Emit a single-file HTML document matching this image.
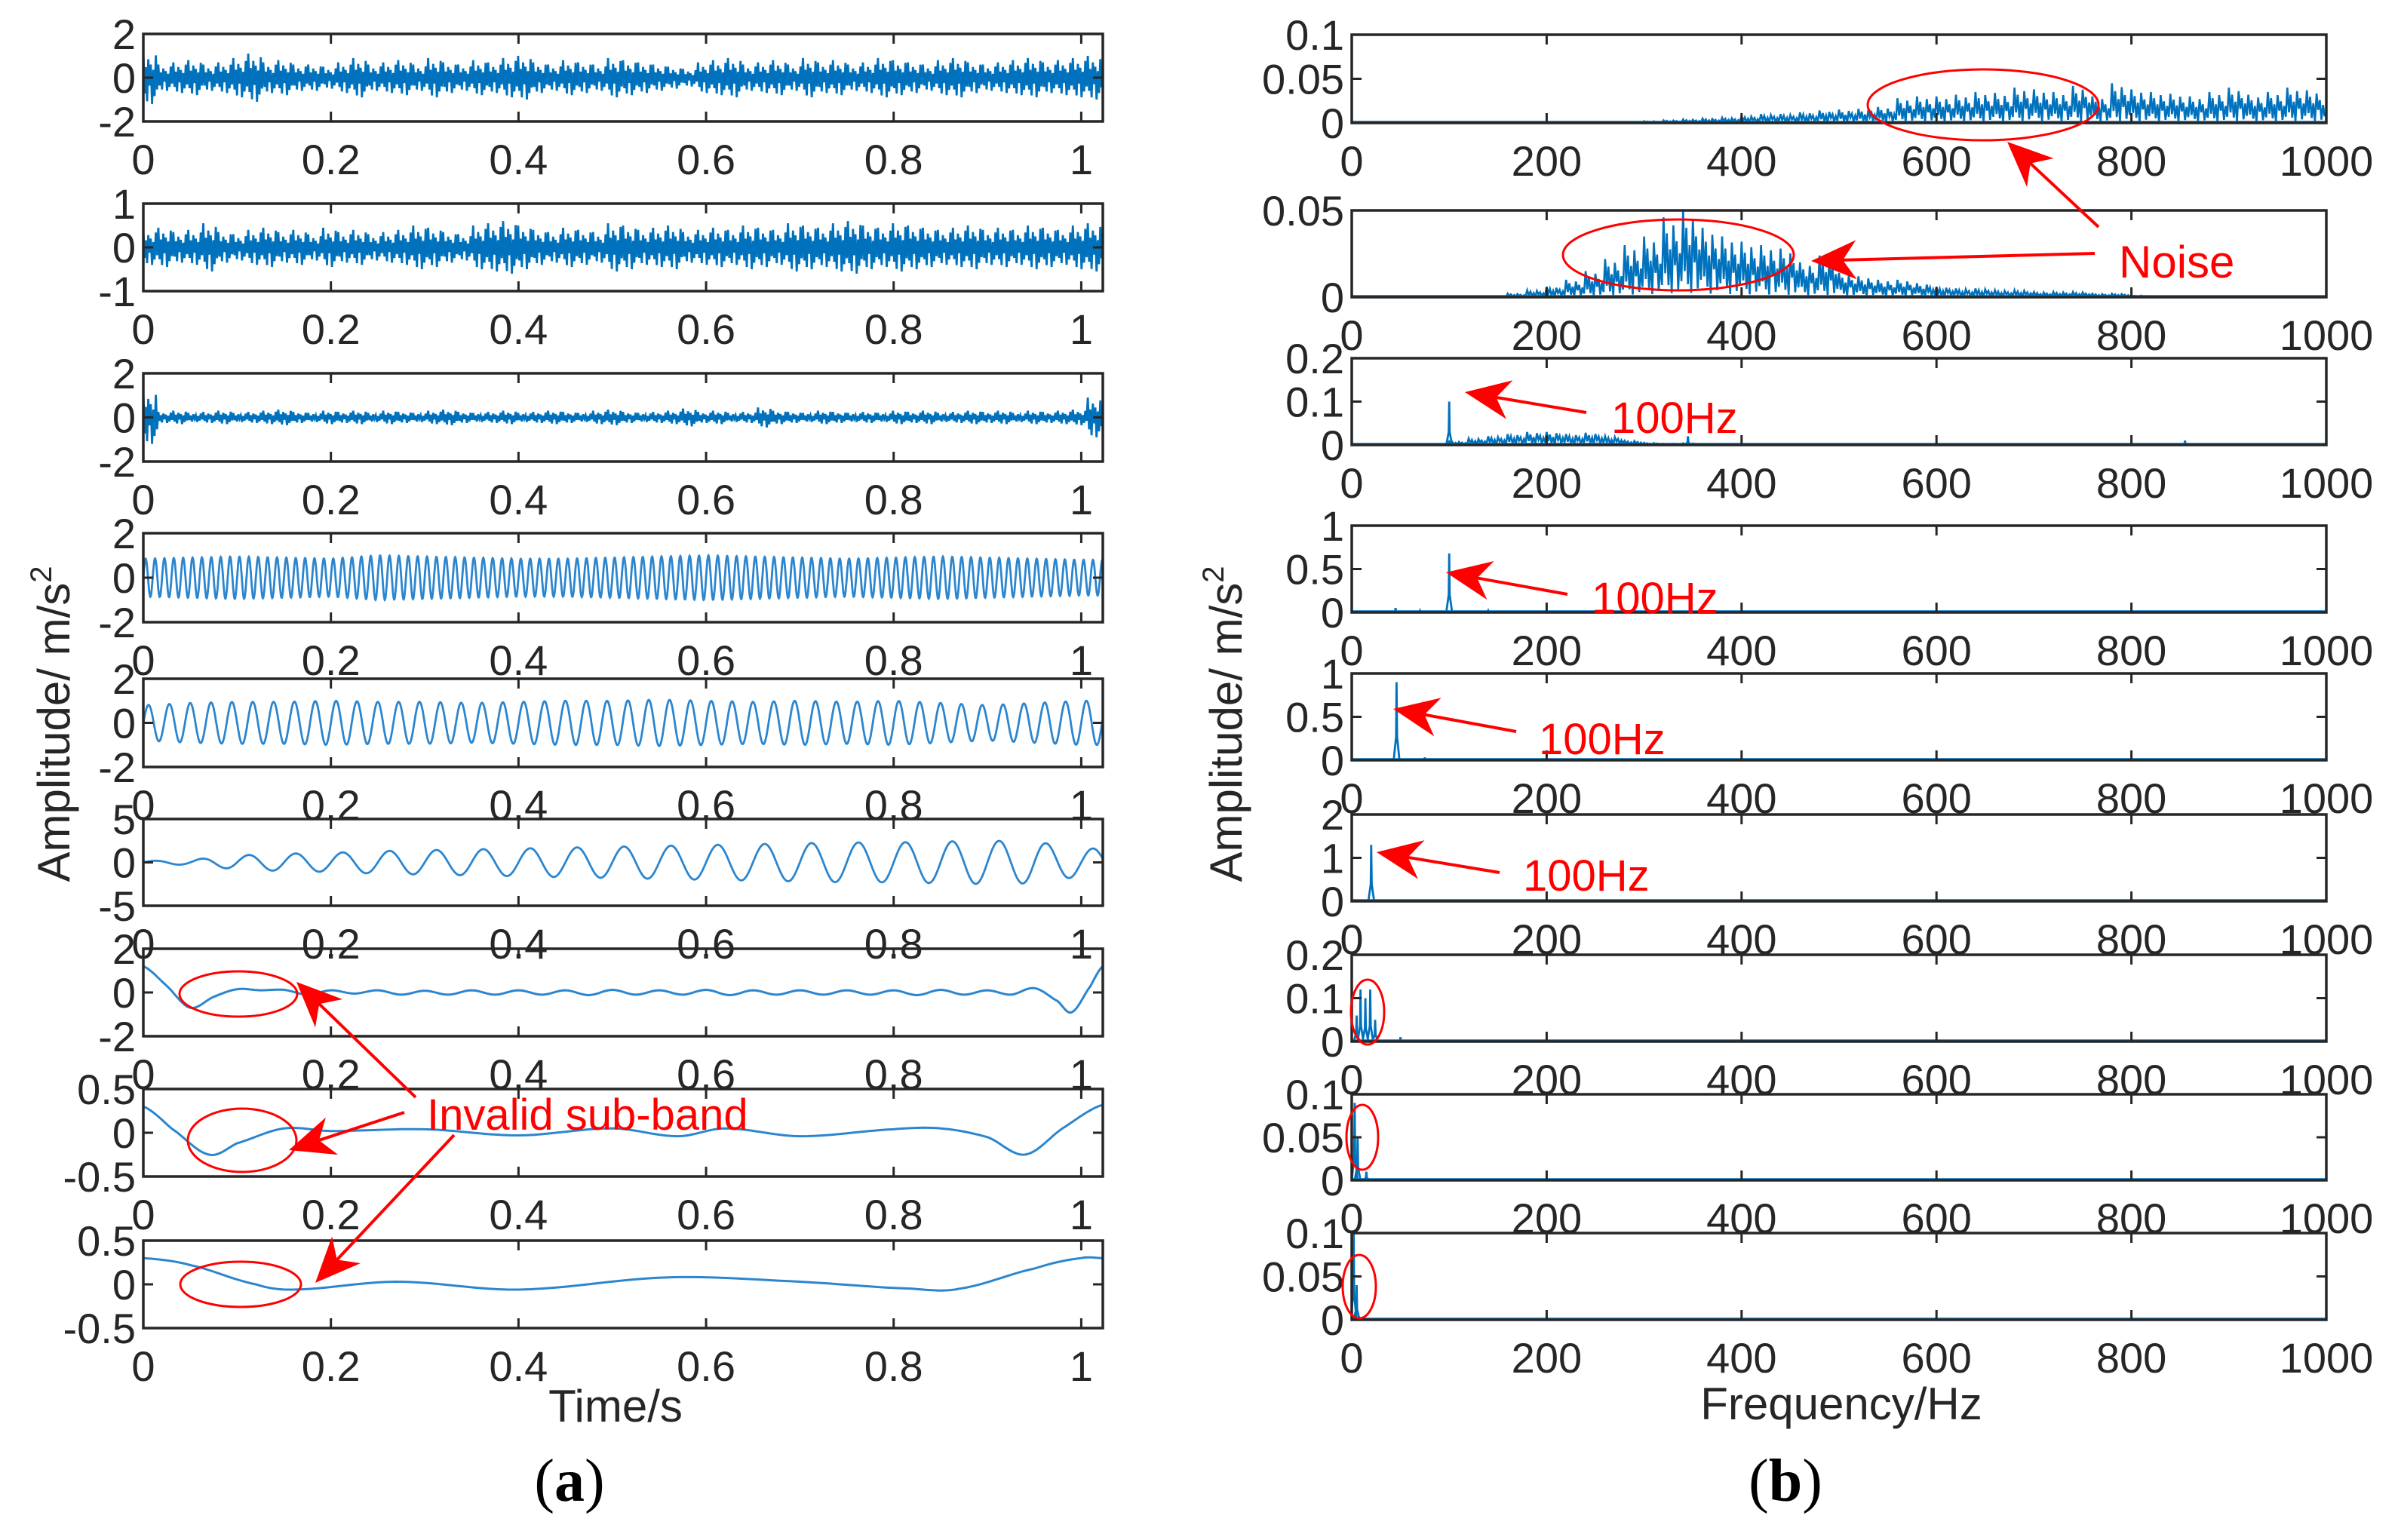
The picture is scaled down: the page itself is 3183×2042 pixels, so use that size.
<!DOCTYPE html>
<html><head><meta charset="utf-8"><style>
html,body{margin:0;padding:0;background:#fff;}
svg{display:block;font-family:"Liberation Sans",Arial,sans-serif;}
</style></head><body>
<svg id="fig" width="3183" height="2042" viewBox="0 0 3183 2042" xmlns="http://www.w3.org/2000/svg">
<rect width="3183" height="2042" fill="#fff"/>
<g id="plots"></g>
<g id="annot"></g>
</svg>
<script>
// ---------- DATA ----------
const timeTicks = [0, 0.2, 0.4, 0.6, 0.8, 1];
const timeTickLabels = ["0", "0.2", "0.4", "0.6", "0.8", "1"];
const freqTicks = [0, 200, 400, 600, 800, 1000];
const freqTickLabels = ["0", "200", "400", "600", "800", "1000"];

const noise1 = [1.2,0.6,0.7,0.8,0.6,0.7,0.9,1.1,0.7,0.8,0.6,0.6,0.5,0.7,0.9,0.6,0.7,0.8,0.6,0.9,0.7,0.6,0.8,0.7,0.9,1.0,0.7,0.6,0.8,0.7,0.6,0.9,0.8,0.7,0.6,0.5,0.4,0.7,0.8,0.9,0.6,0.7,0.8,0.6,0.9,0.7,0.8,0.6,0.7,0.9,0.8,0.7,0.6,0.8,0.9,0.7,0.6,0.7,0.8,0.9,0.7,0.8,0.9,1.0];
const noise2 = [0.4,0.45,0.35,0.4,0.55,0.35,0.3,0.4,0.45,0.35,0.4,0.3,0.45,0.35,0.4,0.3,0.35,0.4,0.5,0.45,0.35,0.3,0.5,0.55,0.6,0.5,0.4,0.35,0.45,0.4,0.35,0.55,0.5,0.4,0.45,0.5,0.35,0.4,0.45,0.4,0.5,0.45,0.4,0.55,0.5,0.45,0.55,0.6,0.5,0.45,0.55,0.5,0.45,0.4,0.45,0.5,0.4,0.45,0.4,0.5,0.45,0.4,0.5,0.55];
const noise3 = [1.2,0.25,0.3,0.2,0.25,0.3,0.2,0.25,0.3,0.35,0.25,0.2,0.3,0.25,0.3,0.2,0.3,0.25,0.2,0.3,0.35,0.25,0.2,0.25,0.3,0.2,0.25,0.3,0.25,0.2,0.3,0.35,0.25,0.2,0.25,0.3,0.4,0.25,0.3,0.2,0.25,0.45,0.3,0.25,0.2,0.3,0.25,0.2,0.25,0.2,0.3,0.25,0.3,0.2,0.25,0.3,0.25,0.3,0.2,0.3,0.25,0.3,0.35,0.9];
const osc4Freq = 100;
const osc4Env = [0.85,0.9,0.95,0.9,0.85,1.0,0.95,0.9,0.85,0.85,0.9,0.95,1.0,0.95,0.9,0.85,0.9,0.95,0.9,0.85,0.8];
const osc5Freq = 45;
const osc5Env = [0.8,0.9,0.95,0.95,1.0,0.95,0.95,0.9,0.95,1.0,1.0,1.05,1.0,0.95,1.0,0.95,1.0,0.9,0.8,0.9,1.0];
const osc6Freq = 20;
const osc6Env = [0.15,0.3,0.8,1.0,1.1,1.3,1.4,1.5,1.6,1.7,1.8,1.9,2.0,2.1,2.2,2.3,2.3,2.4,2.5,2.4,1.6];
const sb7T = [0,0.025,0.05,0.075,0.1,0.125,0.15,0.175,0.2,0.225,0.25,0.275,0.3,0.325,0.35,0.375,0.4,0.425,0.45,0.475,0.5,0.525,0.55,0.575,0.6,0.625,0.65,0.675,0.7,0.725,0.75,0.775,0.8,0.825,0.85,0.875,0.9,0.925,0.95,0.975,0.99,1.01,1.023];
const sb7V = [1.2,0.3,-0.7,-0.2,0.15,0.1,0.12,-0.1,0.1,-0.05,0.1,-0.1,0.08,-0.1,0.1,-0.1,0.1,-0.1,0.1,-0.12,0.12,-0.1,0.1,-0.1,0.12,-0.12,0.1,-0.1,0.1,-0.1,0.1,-0.1,0.1,-0.12,0.12,-0.1,0.1,-0.1,0.2,-0.4,-0.9,0.3,1.2];
const sb8T = [0,0.03,0.07,0.1,0.15,0.2,0.3,0.4,0.5,0.57,0.62,0.7,0.8,0.85,0.9,0.94,0.98,1.023];
const sb8V = [0.3,0.05,-0.25,-0.12,0.05,0.02,0.04,-0.03,0.05,-0.04,0.05,-0.04,0.04,0.05,-0.05,-0.25,0.05,0.32];
const sb9T = [0,0.05,0.12,0.16,0.27,0.4,0.56,0.7,0.82,0.87,0.95,1.0,1.023];
const sb9V = [0.3,0.22,0.0,-0.06,0.03,-0.06,0.08,0.03,-0.05,-0.05,0.18,0.3,0.3];
const spec1Bins = [0,0,0,0,0,0,0,0,0,0,0,0,0,0,0.001,0.002,0.003,0.004,0.005,0.006,0.008,0.01,0.01,0.012,0.014,0.015,0.016,0.018,0.028,0.03,0.03,0.032,0.035,0.034,0.04,0.038,0.035,0.042,0.03,0.045,0.038,0.035,0.033,0.03,0.035,0.04,0.032,0.035,0.04,0.037];
const spec2Bins = [0,0,0,0,0,0,0,0,0.002,0.004,0.006,0.01,0.015,0.022,0.03,0.035,0.046,0.05,0.04,0.035,0.032,0.03,0.028,0.02,0.024,0.014,0.012,0.01,0.01,0.008,0.006,0.005,0.005,0.004,0.004,0.003,0.003,0.003,0.002,0.002,0.001,0,0,0,0,0,0,0,0,0];
const spec3Bins = [0,0,0,0,0,0.008,0.015,0.02,0.025,0.03,0.03,0.025,0.028,0.02,0.01,0.005,0.003,0.004,0,0,0,0,0,0,0,0,0,0,0,0,0,0,0,0,0,0,0,0,0,0,0,0,0.002,0,0,0,0,0,0,0];
const spec3Peaks = [[100,0.1],[345,0.02],[855,0.01]];
const spec4Peaks = [[100,0.68],[45,0.05],[70,0.02],[140,0.02]];
const spec5Peaks = [[46,0.9],[75,0.03]];
const spec6Peaks = [[20,1.3]];
const spec7Peaks = [[5,0.06],[9,0.12],[14,0.1],[19,0.12],[24,0.05],[50,0.01]];
const spec8Peaks = [[3,0.09],[6,0.05],[15,0.01]];
const spec9Peaks = [[2,0.1],[5,0.04]];

// ---------- LAYOUT ----------
const NS = "http://www.w3.org/2000/svg";
const plots = document.getElementById("plots");
const annot = document.getElementById("annot");
const BLUE = "#0072BD", LBLUE = "#2b86cf";
function mk(tag, attrs, parent) {
  const e = document.createElementNS(NS, tag);
  for (const k in attrs) e.setAttribute(k, attrs[k]);
  (parent || plots).appendChild(e);
  return e;
}
const L = {x0: 190, x1: 1462, xmax: 1.023};
const R = {x0: 1792, x1: 3084, xmax: 1000};
const leftRows = [[45,161],[270,386],[495,612],[707,825],[900,1017],[1086,1201],[1258,1374],[1444,1560],[1645,1761]];
const rightRows = [[46,163],[279,394],[475,590],[697,812],[893,1008],[1080,1195],[1266,1381],[1451,1565],[1635,1750]];

function axes(col, row, ylim, yticks, ylabels, xticks, xlabels, name) {
  const g = mk("g", {});
  
  
  const [top, bot] = row;
  const sx = v => col.x0 + v / col.xmax * (col.x1 - col.x0);
  const sy = v => bot - (v - ylim[0]) / (ylim[1] - ylim[0]) * (bot - top);
  const clipId = "c" + name;
  const cp = mk("clipPath", {id: clipId}, g);
  mk("rect", {x: col.x0, y: top, width: col.x1 - col.x0, height: bot - top}, cp);
  const data = mk("g", {"clip-path": "url(#" + clipId + ")"}, g);
  
  
  xticks.forEach((t, i) => {
    const x = sx(t);
    mk("line", {x1: x, x2: x, y1: bot, y2: bot - 13, stroke: "#262626", "stroke-width": 3}, g);
    mk("line", {x1: x, x2: x, y1: top, y2: top + 13, stroke: "#262626", "stroke-width": 3}, g);
    const tx = mk("text", {x: x, y: bot + 70, "font-size": 56, "text-anchor": "middle", fill: "#262626"}, g);
    tx.textContent = xlabels[i];
    
    
  });
  yticks.forEach((t, i) => {
    const y = sy(t);
    mk("line", {x1: col.x0, x2: col.x0 + 13, y1: y, y2: y, stroke: "#262626", "stroke-width": 3}, g);
    mk("line", {x1: col.x1, x2: col.x1 - 13, y1: y, y2: y, stroke: "#262626", "stroke-width": 3}, g);
    const ty = mk("text", {x: col.x0 - 10, y: y + 20, "font-size": 56, "text-anchor": "end", fill: "#262626"}, g);
    ty.textContent = ylabels[i];
    
    
  });
  const fr = mk("rect", {x: col.x0, y: top, width: col.x1 - col.x0, height: bot - top, fill: "none", stroke: "#262626", "stroke-width": 3.5}, g);
  
  
  return {sx, sy, data};
}
function pathFrom(pts) { return "M" + pts.map(p => p[0].toFixed(1) + "," + p[1].toFixed(1)).join("L"); }

const noisePat = [1, -0.6, 0.4, -0.9, 0.7, -0.3, 0.5, -1, 0.3, -0.7, 0.85, -0.45];
function noisePanel(ax, arr) {
  const pts = [];
  const n = arr.length, w = L.xmax / n;
  arr.forEach((v, i) => {
    noisePat.forEach((p, k) => { pts.push([ax.sx((i + k / noisePat.length) * w), ax.sy(p * v)]); });
  });
  mk("path", {d: pathFrom(pts), fill: "none", stroke: BLUE, "stroke-width": 2.8}, ax.data);
}
function oscPanel(ax, f, env) {
  const pts = [];
  const N = 3000;
  for (let i = 0; i <= N; i++) {
    const t = i / N * L.xmax;
    const ei = Math.min(env.length - 1, t / 0.05);
    const a = env[Math.floor(ei)] + (env[Math.min(env.length - 1, Math.floor(ei) + 1)] - env[Math.floor(ei)]) * (ei - Math.floor(ei));
    pts.push([ax.sx(t), ax.sy(a * Math.sin(2 * Math.PI * f * t))]);
  }
  mk("path", {d: pathFrom(pts), fill: "none", stroke: LBLUE, "stroke-width": 2.8}, ax.data);
}
function smoothPanel(ax, T, V) {
  const pts = [];
  for (let i = 0; i < T.length - 1; i++) {
    const p0 = V[Math.max(0, i - 1)], p1 = V[i], p2 = V[i + 1], p3 = V[Math.min(V.length - 1, i + 2)];
    for (let s = 0; s < 12; s++) {
      const u = s / 12;
      const v = 0.5 * (2 * p1 + (-p0 + p2) * u + (2 * p0 - 5 * p1 + 4 * p2 - p3) * u * u + (-p0 + 3 * p1 - 3 * p2 + p3) * u * u * u);
      pts.push([ax.sx(T[i] + (T[i + 1] - T[i]) * u), ax.sy(v)]);
    }
  }
  pts.push([ax.sx(T[T.length - 1]), ax.sy(V[V.length - 1])]);
  mk("path", {d: pathFrom(pts), fill: "none", stroke: LBLUE, "stroke-width": 3}, ax.data);
}
const specPat = [1, 0.3, 0.8, 0.15, 0.6, 0.05, 0.9, 0.4, 0.7, 0.1, 0.55, 0.2];
function specPanel(ax, bins, peaks) {
  if (bins) {
    const pts = [];
    const w = 1000 / bins.length;
    bins.forEach((v, i) => {
      specPat.forEach((p, k) => { pts.push([ax.sx((i + k / specPat.length) * w), ax.sy(p * v)]); });
    });
    mk("path", {d: pathFrom(pts), fill: "none", stroke: BLUE, "stroke-width": 2.6}, ax.data);
  }
  mk("line", {x1: ax.sx(0), x2: ax.sx(1000), y1: ax.sy(0) - 1, y2: ax.sy(0) - 1, stroke: BLUE, "stroke-width": 3.5}, ax.data);
  (peaks || []).forEach(pk => {
    const p = mk("path", {d: pathFrom([[ax.sx(pk[0] - 3), ax.sy(0)], [ax.sx(pk[0] - 0.5), ax.sy(pk[1] * 0.3)], [ax.sx(pk[0]), ax.sy(pk[1])], [ax.sx(pk[0] + 0.5), ax.sy(pk[1] * 0.3)], [ax.sx(pk[0] + 3), ax.sy(0)]]), fill: "none", stroke: BLUE, "stroke-width": 2.8}, ax.data);
    
    
  });
}

let a;
a = axes(L, leftRows[0], [-2,2], [2,0,-2], ["2","0","-2"], timeTicks, timeTickLabels, "imf1-time"); noisePanel(a, noise1);
a = axes(L, leftRows[1], [-1,1], [1,0,-1], ["1","0","-1"], timeTicks, timeTickLabels, "imf2-time"); noisePanel(a, noise2);
a = axes(L, leftRows[2], [-2,2], [2,0,-2], ["2","0","-2"], timeTicks, timeTickLabels, "imf3-time"); noisePanel(a, noise3);
a = axes(L, leftRows[3], [-2,2], [2,0,-2], ["2","0","-2"], timeTicks, timeTickLabels, "imf4-time"); oscPanel(a, osc4Freq, osc4Env);
a = axes(L, leftRows[4], [-2,2], [2,0,-2], ["2","0","-2"], timeTicks, timeTickLabels, "imf5-time"); oscPanel(a, osc5Freq, osc5Env);
a = axes(L, leftRows[5], [-5,5], [5,0,-5], ["5","0","-5"], timeTicks, timeTickLabels, "imf6-time"); oscPanel(a, osc6Freq, osc6Env);
a = axes(L, leftRows[6], [-2,2], [2,0,-2], ["2","0","-2"], timeTicks, timeTickLabels, "imf7-time"); smoothPanel(a, sb7T, sb7V);
a = axes(L, leftRows[7], [-0.5,0.5], [0.5,0,-0.5], ["0.5","0","-0.5"], timeTicks, timeTickLabels, "imf8-time"); smoothPanel(a, sb8T, sb8V);
a = axes(L, leftRows[8], [-0.5,0.5], [0.5,0,-0.5], ["0.5","0","-0.5"], timeTicks, timeTickLabels, "imf9-time"); smoothPanel(a, sb9T, sb9V);
a = axes(R, rightRows[0], [0,0.1], [0.1,0.05,0], ["0.1","0.05","0"], freqTicks, freqTickLabels, "imf1-spectrum"); specPanel(a, spec1Bins, []);
a = axes(R, rightRows[1], [0,0.05], [0.05,0], ["0.05","0"], freqTicks, freqTickLabels, "imf2-spectrum"); specPanel(a, spec2Bins, []);
a = axes(R, rightRows[2], [0,0.2], [0.2,0.1,0], ["0.2","0.1","0"], freqTicks, freqTickLabels, "imf3-spectrum"); specPanel(a, spec3Bins, spec3Peaks);
a = axes(R, rightRows[3], [0,1], [1,0.5,0], ["1","0.5","0"], freqTicks, freqTickLabels, "imf4-spectrum"); specPanel(a, null, spec4Peaks);
a = axes(R, rightRows[4], [0,1], [1,0.5,0], ["1","0.5","0"], freqTicks, freqTickLabels, "imf5-spectrum"); specPanel(a, null, spec5Peaks);
a = axes(R, rightRows[5], [0,2], [2,1,0], ["2","1","0"], freqTicks, freqTickLabels, "imf6-spectrum"); specPanel(a, null, spec6Peaks);
a = axes(R, rightRows[6], [0,0.2], [0.2,0.1,0], ["0.2","0.1","0"], freqTicks, freqTickLabels, "imf7-spectrum"); specPanel(a, null, spec7Peaks);
a = axes(R, rightRows[7], [0,0.1], [0.1,0.05,0], ["0.1","0.05","0"], freqTicks, freqTickLabels, "imf8-spectrum"); specPanel(a, null, spec8Peaks);
a = axes(R, rightRows[8], [0,0.1], [0.1,0.05,0], ["0.1","0.05","0"], freqTicks, freqTickLabels, "imf9-spectrum"); specPanel(a, null, spec9Peaks);

// ---------- ANNOTATIONS ----------
const RED = "#ff0000";
function ell(cx, cy, rx, ry) {
  const e = mk("ellipse", {cx, cy, rx, ry, fill: "none", stroke: RED, "stroke-width": 3}, annot);
  
  
}
function arrow(x1, y1, x2, y2) {
  const g = mk("g", {}, annot);
  
  
  const dx = x2 - x1, dy = y2 - y1, len = Math.hypot(dx, dy), ux = dx / len, uy = dy / len;
  const hl = 60, hw = 26;
  const bx = x2 - ux * hl, by = y2 - uy * hl;
  mk("line", {x1, y1, x2: bx + ux * 20, y2: by + uy * 20, stroke: RED, "stroke-width": 4}, g);
  mk("path", {d: `M${x2},${y2}L${bx - uy * hw},${by + ux * hw}L${bx + ux * 18},${by + uy * 18}L${bx + uy * hw},${by - ux * hw}Z`, fill: RED}, g);
}
function label(x, y, txt, size) {
  const t = mk("text", {x, y, "font-size": size, fill: RED}, annot);
  t.textContent = txt;
  
  
}
ell(316, 1318, 78, 30); ell(321, 1512, 72, 42); ell(319, 1703, 80, 30);
arrow(551, 1455, 393, 1302); arrow(536, 1475, 383, 1525); arrow(602, 1505, 418, 1701);
label(566, 1498, "Invalid sub-band", 58);
ell(2629, 139, 153, 47); ell(2225, 338, 153, 47);
arrow(2782, 301, 2661, 188); arrow(2777, 336, 2401, 346);
label(2809, 368, "Noise", 60);
arrow(2103, 547, 1942, 520); label(2136, 574, "100Hz", 58);
arrow(2078, 788, 1917, 759); label(2110, 813, "100Hz", 58);
arrow(2010, 970, 1847, 940); label(2040, 1000, "100Hz", 58);
arrow(1988, 1157, 1825, 1130); label(2019, 1181, "100Hz", 58);
ell(1813, 1342, 22, 43); ell(1806, 1508, 21, 43); ell(1802, 1706, 22, 42);

function title(x, y, txt, attrs, name) {
  const t = mk("text", Object.assign({x, y, fill: "#262626", "text-anchor": "middle"}, attrs), annot);
  t.innerHTML = txt;
  
  
}
title(816, 1885, "Time/s", {"font-size": 60}, "x-axis-title-time");
title(2441, 1882, "Frequency/Hz", {"font-size": 60}, "x-axis-title-frequency");
title(0, 0, 'Amplitude/  m/s<tspan font-size="40" dy="-24">2</tspan>', {"font-size": 60, transform: "translate(92,960) rotate(-90)"}, "y-axis-title-left");
title(0, 0, 'Amplitude/  m/s<tspan font-size="40" dy="-24">2</tspan>', {"font-size": 60, transform: "translate(1646,960) rotate(-90)"}, "y-axis-title-right");
title(755, 1990, '(<tspan font-weight="bold">a</tspan>)', {"font-size": 80, fill: "#000", "font-family": "Liberation Serif, serif"}, "caption-a");
title(2367, 1990, '(<tspan font-weight="bold">b</tspan>)', {"font-size": 80, fill: "#000", "font-family": "Liberation Serif, serif"}, "caption-b");
</script>
</body></html>
